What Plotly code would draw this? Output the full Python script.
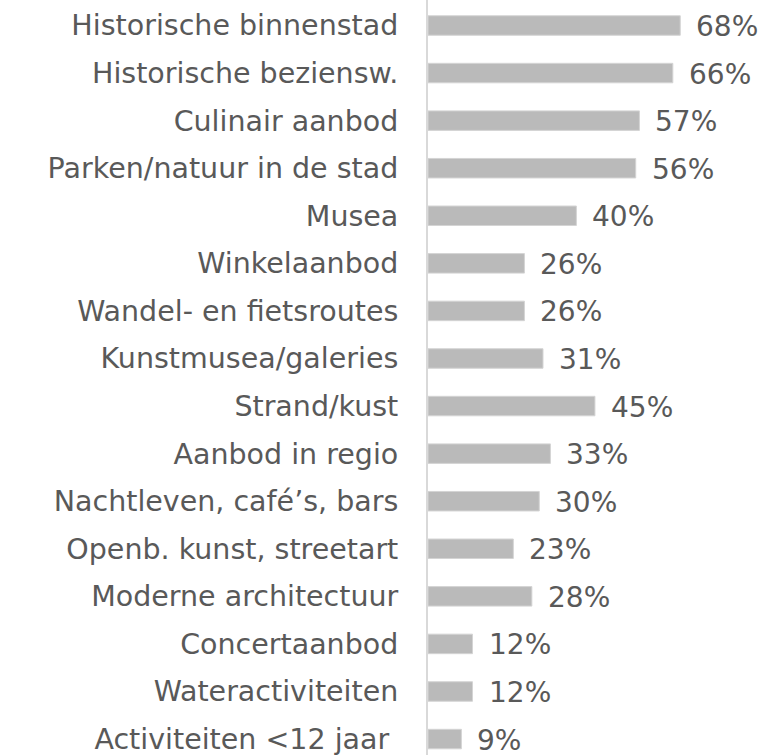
import plotly.graph_objects as go

categories = ["Historische binnenstad", "Historische beziensw.", "Culinair aanbod",
              "Parken/natuur in de stad", "Musea", "Winkelaanbod",
              "Wandel- en fietsroutes", "Kunstmusea/galeries", "Strand/kust",
              "Aanbod in regio", "Nachtleven, café’s, bars", "Openb. kunst, streetart",
              "Moderne architectuur", "Concertaanbod", "Wateractiviteiten",
              "Activiteiten <12 jaar"]
values = [68, 66, 57, 56, 40, 26, 26, 31, 45, 33, 30, 23, 28, 12, 12, 9]
# the last label carries a trailing space in the original
tick_labels = categories[:-1] + [categories[-1] + "\u00a0"]

FONT = "DejaVu Sans"
TXT = "#595959"

fig = go.Figure(go.Bar(
    x=values, y=categories, orientation="h",
    marker=dict(color="#bababa", line=dict(color="#d4d4d4", width=1)),
    width=0.41, hoverinfo="skip",
))

for c, v in zip(categories, values):
    fig.add_annotation(x=v, y=c, text=f"{v}%", showarrow=False,
                       xanchor="left", xshift=14, yshift=-1,
                       font=dict(family=FONT, size=28, color=TXT))

fig.update_layout(
    width=760, height=755,
    margin=dict(l=428, r=0, t=0, b=0),
    plot_bgcolor="white", paper_bgcolor="white",
    showlegend=False,
    xaxis=dict(range=[0, 89.5], visible=False, fixedrange=True),
    yaxis=dict(type="category", range=[15.335, -0.536],
               tickvals=categories, ticktext=tick_labels,
               showline=True, linecolor="#d9d9d9", linewidth=2,
               showgrid=False, ticks="", ticklabelstandoff=22,
               tickfont=dict(family=FONT, size=28.5, color=TXT)),
)

# drop the default page margin so the figure sits at the top-left corner
fig.write_html("out.html", config={"displayModeBar": False},
               post_script="document.body.style.margin='0';")
